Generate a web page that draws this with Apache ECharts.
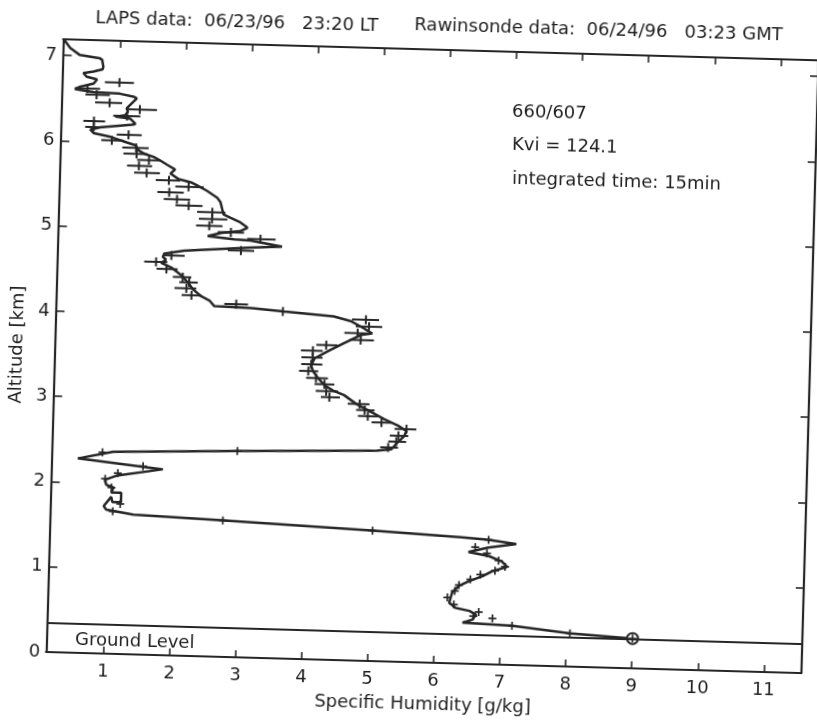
<!DOCTYPE html>
<html><head><meta charset="utf-8">
<script src="https://cdn.jsdelivr.net/npm/echarts@6/dist/echarts.min.js"></script>
<style>
html,body{margin:0;padding:0;background:#fff;overflow:hidden}
#chart{width:817px;height:720px;transform:rotate(1.6deg);transform-origin:408.5px 360px;background:#fff}
</style></head><body><div id="chart"></div>
<script>
// ---- data (Specific humidity g/kg vs altitude km) ----
const rawHum = [0.14,0.24,0.39,0.69,0.73,0.75,0.74,0.60,0.45,0.50,0.66,0.61,0.41,0.33,0.61,1.01,1.22,1.27,1.17,1.12,1.14,1.10,0.95,1.18,1.26,1.21,0.73,0.58,0.63,0.89,1.14,1.27,1.32,1.42,1.55,1.65,1.76,1.88,1.81,1.93,2.14,2.22,2.37,2.53,2.58,2.63,2.74,2.89,3.00,2.90,2.60,2.40,2.80,3.05,3.53,3.06,2.05,1.75,1.73,1.78,1.71,1.86,2.02,2.12,2.20,2.33,2.46,2.53,3.09,3.59,4.34,4.60,4.80,4.93,4.76,4.49,4.27,4.07,4.02,4.05,4.13,4.23,4.36,4.53,4.72,4.90,5.15,5.36,5.49,5.46,5.37,5.27,5.05,2.94,1.06,0.53,1.82,1.12,0.95,0.97,1.08,1.05,1.20,1.20,1.07,1.05,0.94,0.98,1.39,2.75,5.02,6.37,6.78,7.20,6.78,6.48,6.79,6.99,7.07,6.84,6.70,6.50,6.35,6.25,6.21,6.31,6.52,6.62,6.57,6.42,7.17,8.05,9.00];
const rawAlt = [7.19,7.09,7.01,6.98,6.96,6.88,6.85,6.82,6.80,6.76,6.73,6.68,6.64,6.61,6.58,6.57,6.54,6.52,6.44,6.40,6.36,6.32,6.30,6.28,6.22,6.21,6.17,6.14,6.10,6.06,6.00,5.97,5.91,5.87,5.84,5.80,5.75,5.70,5.65,5.59,5.55,5.52,5.46,5.38,5.33,5.19,5.15,5.10,5.04,5.00,4.97,4.93,4.90,4.89,4.83,4.81,4.75,4.71,4.67,4.64,4.60,4.55,4.46,4.38,4.30,4.22,4.17,4.11,4.10,4.07,4.03,3.98,3.90,3.84,3.82,3.71,3.62,3.53,3.45,3.38,3.30,3.22,3.16,3.11,3.01,2.94,2.84,2.77,2.71,2.65,2.58,2.49,2.47,2.42,2.37,2.28,2.18,2.09,2.04,1.98,1.95,1.89,1.89,1.78,1.78,1.84,1.73,1.69,1.64,1.60,1.53,1.48,1.46,1.42,1.37,1.31,1.27,1.21,1.15,1.09,1.03,0.97,0.91,0.83,0.71,0.65,0.62,0.58,0.52,0.48,0.46,0.39,0.35];

const lapsHum = [1.00,0.52,0.66,0.86,1.32,1.13,0.63,0.63,1.16,0.91,1.28,1.29,1.48,1.33,1.45,1.79,2.09,1.80,1.92,2.10,2.46,2.46,2.42,2.75,3.20,2.91,1.86,1.63,1.79,2.04,2.14,2.10,2.18,2.86,3.57,4.83,4.88,4.71,4.76,4.24,4.04,4.04,4.02,3.98,4.10,4.23,4.26,4.31,4.77,4.85,4.90,5.11,5.49,5.37,5.34,5.22];
const lapsAlt = [6.70,6.62,6.55,6.46,6.39,6.31,6.24,6.17,6.09,6.02,5.94,5.87,5.80,5.73,5.65,5.57,5.50,5.43,5.35,5.28,5.21,5.13,5.05,4.98,4.91,4.77,4.69,4.61,4.53,4.44,4.38,4.31,4.23,4.14,4.07,4.00,3.92,3.84,3.76,3.69,3.62,3.54,3.46,3.38,3.30,3.23,3.15,3.08,3.01,2.94,2.87,2.80,2.73,2.65,2.58,2.51];
const lapsLo  = [0.78,0.33,0.49,0.64,1.12,0.92,0.47,0.50,0.98,0.75,1.07,1.09,1.30,1.15,1.26,1.59,1.89,1.62,1.72,1.90,2.23,2.26,2.22,2.55,3.00,2.71,1.73,1.45,1.64,1.89,1.99,1.92,2.03,2.68,3.52,4.62,4.68,4.51,4.59,4.09,3.86,3.87,3.87,3.84,3.95,4.08,4.10,4.18,4.59,4.72,4.75,4.96,5.31,5.24,5.22,5.10];
const lapsHi  = [1.22,0.71,0.86,1.05,1.58,1.33,0.80,0.78,1.36,1.09,1.47,1.45,1.65,1.53,1.65,1.96,2.32,2.02,2.12,2.31,2.66,2.69,2.62,2.95,3.43,3.11,2.06,1.80,1.96,2.17,2.27,2.25,2.33,3.04,3.62,5.03,5.08,4.86,4.96,4.41,4.19,4.19,4.19,4.13,4.28,4.38,4.44,4.47,4.92,5.00,5.05,5.26,5.64,5.52,5.49,5.37];

// LAPS points with very small error bars (drawn as plain crosses)
const smallHum = [0.90,2.94,1.52,1.14,0.95,1.05,1.19,1.08,2.75,5.02,6.78,6.58,6.76,6.94,7.04,6.89,6.67,6.52,6.35,6.29,6.18,6.28,6.66,6.58,6.87,7.17,8.05,9.00];
const smallAlt = [2.36,2.42,2.21,2.12,2.05,1.95,1.76,1.67,1.60,1.53,1.46,1.37,1.30,1.22,1.15,1.10,1.05,0.99,0.92,0.85,0.77,0.69,0.61,0.56,0.54,0.46,0.39,0.35];

const surfaceHum = [9.00];
const surfaceAlt = [0.35];
const groundLevel = 0.345;

const xTicks = [1,2,3,4,5,6,7,8,9,10,11];
const yTicks = [0,1,2,3,4,5,6,7];
const xRange = [0.13, 11.57];
const yRange = [0, 7.19];

const titleLeft = 'LAPS data:  06/23/96   23:20 LT';
const titleRight = 'Rawinsonde data:  06/24/96   03:23 GMT';
const noteLines = ['660/607', 'Kvi = 124.1', 'integrated time: 15min'];
const groundText = 'Ground Level';
const xName = 'Specific Humidity [g/kg]';
const yName = 'Altitude [km]';

// ---- chart ----
const FONT = 'DejaVu Sans';
const INK = '#1e1e1e';
const LINE = '#262626';

function errCross(params, api) {
  const y = api.value(1);
  const c = api.coord([api.value(0), y]);
  const l = api.coord([api.value(2), y]);
  const r = api.coord([api.value(3), y]);
  const st = {stroke: LINE, lineWidth: 2};
  return {type: 'group', children: [
    {type: 'line', shape: {x1: l[0], y1: l[1], x2: r[0], y2: r[1]}, style: st},
    {type: 'line', shape: {x1: c[0], y1: c[1] - 4.5, x2: c[0], y2: c[1] + 4.5}, style: st}
  ]};
}
function plainCross(params, api) {
  const c = api.coord([api.value(0), api.value(1)]);
  const st = {stroke: LINE, lineWidth: 1.7};
  return {type: 'group', children: [
    {type: 'line', shape: {x1: c[0] - 4, y1: c[1], x2: c[0] + 4, y2: c[1]}, style: st},
    {type: 'line', shape: {x1: c[0], y1: c[1] - 4, x2: c[0], y2: c[1] + 4}, style: st}
  ]};
}

const axisLine = {show: true, onZero: false, lineStyle: {color: LINE, width: 2.2}};
const tickStyle = {color: LINE, width: 1.6};
const labelStyle = {fontFamily: FONT, fontSize: 18, color: INK};

const chart = echarts.init(document.getElementById('chart'));
chart.setOption({
  backgroundColor: '#fff',
  animation: false,
  grid: {left: 51, top: 49, width: 759, height: 613},
  xAxis: [
    {type: 'value', position: 'bottom', min: xRange[0], max: xRange[1],
     name: xName, nameLocation: 'middle', nameGap: 33,
     nameTextStyle: {fontFamily: FONT, fontSize: 18, color: INK},
     axisLine: axisLine,
     axisTick: {show: true, inside: true, length: 7, customValues: xTicks, lineStyle: tickStyle},
     axisLabel: Object.assign({customValues: xTicks, margin: 9}, labelStyle),
     splitLine: {show: false}},
    {type: 'value', position: 'top', min: xRange[0], max: xRange[1],
     axisLine: axisLine,
     axisTick: {show: true, inside: true, length: 7, customValues: xTicks, lineStyle: tickStyle},
     axisLabel: {show: false}, splitLine: {show: false}}
  ],
  yAxis: [
    {type: 'value', position: 'left', min: yRange[0], max: yRange[1],
     name: yName, nameLocation: 'middle', nameGap: 19,
     nameTextStyle: {fontFamily: FONT, fontSize: 18, color: INK},
     axisLine: axisLine,
     axisTick: {show: true, inside: true, length: 9, customValues: yTicks, lineStyle: tickStyle},
     axisLabel: Object.assign({customValues: yTicks, margin: 6, padding: [6, 0, 0, 0]}, labelStyle),
     splitLine: {show: false}},
    {type: 'value', position: 'right', min: yRange[0], max: yRange[1],
     axisLine: axisLine,
     axisTick: {show: true, inside: true, length: 8, customValues: yTicks, lineStyle: tickStyle},
     axisLabel: {show: false}, splitLine: {show: false}}
  ],
  graphic: [
    {type: 'text', left: 86, top: 18, style: {text: titleLeft, font: '18px "DejaVu Sans"', fill: INK}},
    {type: 'text', left: 405, top: 16, style: {text: titleRight, font: '18px "DejaVu Sans"', fill: INK}},
    {type: 'text', left: 505, top: 100, style: {text: noteLines[0], font: '18px "DejaVu Sans"', fill: INK}},
    {type: 'text', left: 506, top: 133, style: {text: noteLines[1], font: '18px "DejaVu Sans"', fill: INK}},
    {type: 'text', left: 507, top: 167, style: {text: noteLines[2], font: '18px "DejaVu Sans"', fill: INK}},
    {type: 'text', left: 83, top: 640, style: {text: groundText, font: '18px "DejaVu Sans"', fill: INK}}
  ],
  series: [
    {type: 'line', name: 'Rawinsonde', data: rawHum.map((h, i) => [h, rawAlt[i]]),
     showSymbol: false, symbol: 'none', lineStyle: {color: LINE, width: 2.5}, z: 3,
     markLine: {silent: true, symbol: 'none', label: {show: false},
       lineStyle: {color: LINE, width: 2.2, type: 'solid'},
       data: [{yAxis: groundLevel}]}},
    {type: 'scatter', name: 'Surface', data: surfaceHum.map((h, i) => [h, surfaceAlt[i]]),
     symbol: 'emptyCircle', symbolSize: 11,
     itemStyle: {color: LINE, borderColor: LINE, borderWidth: 1.6, opacity: 1}, z: 4},
    {type: 'custom', name: 'LAPS', renderItem: errCross,
     encode: {x: [0, 2, 3], y: 1},
     data: lapsHum.map((h, i) => [h, lapsAlt[i], lapsLo[i], lapsHi[i]]), z: 5},
    {type: 'custom', name: 'LAPS small', renderItem: plainCross,
     encode: {x: 0, y: 1},
     data: smallHum.map((h, i) => [h, smallAlt[i]]), z: 5}
  ]
});
</script></body></html>
